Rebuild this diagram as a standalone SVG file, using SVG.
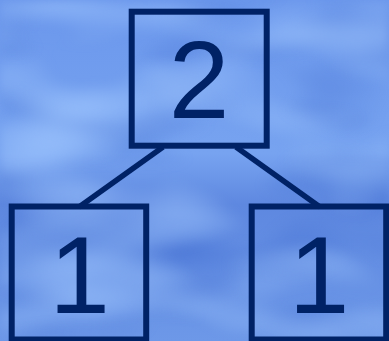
<svg xmlns="http://www.w3.org/2000/svg" width="389" height="341" viewBox="0 0 389 341">
  <style>
    .box { fill: none; stroke: #002266; stroke-width: 6; }
    .edge { stroke: #002266; stroke-width: 5.5; fill: none; }
    .lbl { font-family: "Liberation Sans", Arial, sans-serif; font-size: 109px; fill: #002266; text-anchor: middle; }
  </style>
  <defs>
    <linearGradient id="bg" x1="0" y1="0" x2="0" y2="1">
      <stop offset="0" stop-color="#6b97ec"/>
      <stop offset="0.45" stop-color="#77a3f0"/>
      <stop offset="0.6" stop-color="#5e88e0"/>
      <stop offset="1" stop-color="#6d98e8"/>
    </linearGradient>
    <filter id="clouds" x="0" y="0" width="100%" height="100%" color-interpolation-filters="sRGB">
      <feTurbulence type="fractalNoise" baseFrequency="0.006 0.016" numOctaves="2" seed="7" result="n"/>
      <feColorMatrix in="n" type="matrix" values="0 0 0 0 0.64  0 0 0 0 0.79  0 0 0 0 1  2.0 0 0 0 -0.9" result="light0"/>
      <feGaussianBlur in="light0" stdDeviation="4" result="light"/>
      <feTurbulence type="fractalNoise" baseFrequency="0.007 0.018" numOctaves="2" seed="19" result="n2"/>
      <feColorMatrix in="n2" type="matrix" values="0 0 0 0 0.28  0 0 0 0 0.45  0 0 0 0 0.83  1.8 0 0 0 -0.85" result="dark0"/>
      <feGaussianBlur in="dark0" stdDeviation="4" result="dark"/>
      <feMerge>
        <feMergeNode in="SourceGraphic"/>
        <feMergeNode in="dark"/>
        <feMergeNode in="light"/>
      </feMerge>
    </filter>
  </defs>
  <rect id="background" x="0" y="0" width="389" height="341" fill="url(#bg)" filter="url(#clouds)"/>
  <g id="connectors">
    <line class="edge" x1="163" y1="147" x2="79" y2="207"/>
    <line class="edge" x1="236" y1="147" x2="320" y2="207"/>
  </g>
  <g id="node-root">
    <rect class="box" x="131.7" y="11.7" width="135" height="134"/>
    <text class="lbl" x="199" y="118">2</text>
  </g>
  <g id="node-left">
    <rect class="box" x="11.7" y="206.5" width="134.5" height="133"/>
    <text class="lbl" x="79.5" y="313">1</text>
  </g>
  <g id="node-right">
    <rect class="box" x="251.7" y="206.5" width="134.5" height="133"/>
    <text class="lbl" x="319" y="313">1</text>
  </g>
</svg>
